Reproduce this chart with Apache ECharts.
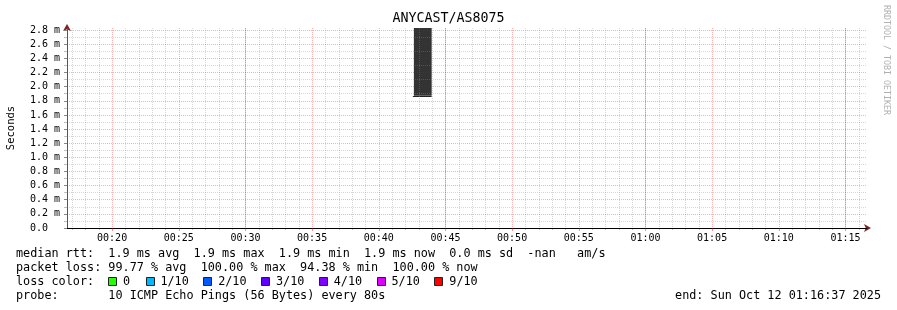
<!DOCTYPE html>
<html><head><meta charset="utf-8">
<script src="https://cdn.jsdelivr.net/npm/echarts@6/dist/echarts.min.js"></script>
<style>html,body{margin:0;padding:0;background:#fff}#c{width:897px;height:310px}</style>
</head><body><div id="c"></div>
<script>
// ---- data ----
const chartTitle = 'ANYCAST/AS8075';
const yAxisName = 'Seconds';
const startTime = '00:16:37';
const endTime = '01:16:37';
const endStamp = 'Sun Oct 12 01:16:37 2025';
const xTickLabels = ['00:20','00:25','00:30','00:35','00:40','00:45','00:50','00:55','01:00','01:05','01:10','01:15'];
const yTickValues = [0,0.2,0.4,0.6,0.8,1.0,1.2,1.4,1.6,1.8,2.0,2.2,2.4,2.6,2.8];
const yMinorValues = [0.1,0.3,0.5,0.7,0.9,1.1,1.3,1.5,1.7,1.9,2.1,2.3,2.5,2.7];
const yMax = 2.83;
const smokeStart = ['00:42:38'];
const smokeEnd = ['00:43:58'];
const smokeLow = [1.87];
const smokeHigh = [3.0];
const medianRtt = [1.87];
const rttStatNames = ['avg','max','min','now'];
const rttStatValues = [1.9,1.9,1.9,1.9];
const rttSd = [0.0];
const lossStatNames = ['avg','max','min','now'];
const lossStatValues = [99.77,100.00,94.38,100.00];
const lossLabels = ['0','1/10','2/10','3/10','4/10','5/10','9/10'];
const lossColors = ['#26ff00','#00b8ff','#0059ff','#5e00ff','#7e00ff','#dd00ff','#ff0000'];
const probeText = '10 ICMP Echo Pings (56 Bytes) every 80s';
const watermark = 'RRDTOOL / TOBI OETIKER';

// ---- helpers ----
function toSec(s){const p=s.split(':').map(Number);return p[0]*3600+p[1]*60+(p[2]||0);}
function fmtHM(v){const h=Math.floor(v/3600),m=Math.round((v%3600)/60);return String(h).padStart(2,'0')+':'+String(m).padStart(2,'0');}
const xMin = toSec(startTime), xMax = toSec(endTime);
const majorX = xTickLabels.map(toSec);
const allMinutes = [];
for (let t=Math.ceil(xMin/60)*60; t<=xMax; t+=60) allMinutes.push(t);
const minuteX = allMinutes.filter(t=>t%300!==0);
const quarterX = allMinutes.filter(t=>t%900===0);

const mono = 'DejaVu Sans Mono';
const smokeData = smokeStart.map((s,i)=>[toSec(s), toSec(smokeEnd[i]), smokeLow[i], smokeHigh[i], medianRtt[i]]);

const grayGrid = 'rgba(143,143,143,0.36)';
const redGrid = 'rgba(229,0,0,0.3)';
const xBase = {type:'value', min:xMin, max:xMax, gridIndex:0, position:'bottom', offset:0};
const yBase = {type:'value', min:0, max:yMax, gridIndex:0, position:'left', offset:0};

// legend graphics
const lg = [];
const lf = 11.8;
function txt(x,y,t,align){lg.push({type:'text', x:x, y:y, z:10, style:{text:t, fontFamily:mono, fontSize:lf, fill:'#000', align:align||'left', verticalAlign:'middle'}});}
txt(16,254,'median rtt:  ' + rttStatValues.map((v,i)=>v.toFixed(1)+' ms '+rttStatNames[i]).join('  ') + '  ' + rttSd[0].toFixed(1) + ' ms sd  -nan   am/s');
txt(16,268,'packet loss: ' + lossStatValues.map((v,i)=>v.toFixed(2)+' % '+lossStatNames[i]).join('  '));
txt(16,282,'loss color:');
let bx = 108.3;
lossLabels.forEach((l,i)=>{
  lg.push({type:'rect', x:0, y:0, z:10, shape:{x:Math.round(bx)+0.5, y:277.5, width:8, height:8}, style:{fill:lossColors[i], stroke:'#222', lineWidth:1}});
  txt(bx+14.8,282,l);
  bx += 16.8 + (l.length+2)*6.83;
});
txt(16,296,'probe:       ' + probeText);
txt(881,296,'end: ' + endStamp,'right');
lg.push({type:'text', x:886, y:5, rotation:-Math.PI/2, z:10, style:{text:watermark, fontFamily:mono, fontSize:8.3, fill:'#b0b0b0', align:'left', verticalAlign:'middle'}});

const chart = echarts.init(document.getElementById('c'), null, {renderer:'canvas'});
chart.setOption({
  backgroundColor:'#fff',
  animation:false,
  title:{text:chartTitle, left:'center', top:12, padding:0, textStyle:{fontFamily:mono, fontSize:13.3, fontWeight:'normal', color:'#000'}},
  grid:{left:67, right:30, top:28, bottom:82, containLabel:false, outerBoundsMode:'none'},
  xAxis:[
    Object.assign({}, xBase, {z:3, axisLine:{show:false}, axisLabel:{show:false},
      axisTick:{show:true, customValues:minuteX, length:2, lineStyle:{color:'#c0c0c0'}},
      splitLine:{show:true, lineStyle:{color:grayGrid, type:[1,1], width:1}}}),
    Object.assign({}, xBase, {z:3, axisLine:{show:false}, axisLabel:{show:false},
      axisTick:{show:false, customValues:quarterX},
      splitLine:{show:true, lineStyle:{color:'rgba(240,60,60,0.28)', width:1}}}),
    Object.assign({}, xBase, {z:3, axisLabel:{show:false}, axisTick:{show:false}, splitLine:{show:false},
      axisLine:{show:true, symbol:['none','arrow'], symbolSize:[6,7], symbolOffset:[0,4], lineStyle:{color:'#7f1f1f', width:1}}}),
    Object.assign({}, xBase, {z:4,
      axisLine:{show:true, lineStyle:{color:'#000', width:1}},
      axisTick:{show:true, customValues:majorX, length:3, lineStyle:{color:'rgba(229,0,0,0.45)'}},
      axisLabel:{customValues:majorX, formatter:fmtHM, fontFamily:mono, fontSize:10, color:'#000', margin:5},
      splitLine:{show:true, lineStyle:{color:redGrid, type:[1,1], width:1}}})
  ],
  yAxis:[
    Object.assign({}, yBase, {z:3, axisLine:{show:false}, axisLabel:{show:false},
      axisTick:{show:true, customValues:yMinorValues, length:3, lineStyle:{color:'#c0c0c0'}},
      splitLine:{show:true, lineStyle:{color:grayGrid, type:[1,1], width:1}}}),
    Object.assign({}, yBase, {z:3, axisLabel:{show:false}, axisTick:{show:false}, splitLine:{show:false},
      axisLine:{show:true, symbol:['none','arrow'], symbolSize:[6,7], symbolOffset:[0,4], lineStyle:{color:'#7f1f1f', width:1}}}),
    Object.assign({}, yBase, {z:4,
      name:yAxisName, nameLocation:'middle', nameRotate:90, nameGap:50,
      nameTextStyle:{fontFamily:mono, fontSize:10.5, color:'#000'},
      axisLine:{show:true, lineStyle:{color:'#555', width:1}},
      axisTick:{show:true, customValues:yTickValues, length:3, lineStyle:{color:'#888'}},
      axisLabel:{customValues:yTickValues, formatter:v=>v===0?'0.0':v.toFixed(1)+' m', fontFamily:mono, fontSize:10, color:'#000', align:'left', margin:37},
      splitLine:{show:true, lineStyle:{color:redGrid, type:[1,1], width:1}}})
  ],
  series:[{
    type:'custom', xAxisIndex:3, yAxisIndex:2, z:1,
    data:smokeData,
    renderItem:function(params, api){
      const a = api.coord([api.value(0), api.value(3)]);
      const b = api.coord([api.value(1), api.value(2)]);
      const m = api.coord([api.value(1), api.value(4)]);
      const cs = params.coordSys;
      const r = echarts.graphic.clipRectByRect({x:a[0], y:a[1], width:b[0]-a[0], height:b[1]-a[1]}, {x:cs.x, y:cs.y, width:cs.width, height:cs.height});
      const ch = [];
      if (r) ch.push({type:'rect', shape:r, style:{fill:'#333333'}});
      ch.push({type:'line', shape:{x1:a[0]-1, y1:Math.round(m[1])+0.5, x2:b[0], y2:Math.round(m[1])+0.5}, style:{stroke:'#222', lineWidth:1}});
      return {type:'group', children:ch};
    }
  }],
  graphic:lg
});
</script></body></html>
